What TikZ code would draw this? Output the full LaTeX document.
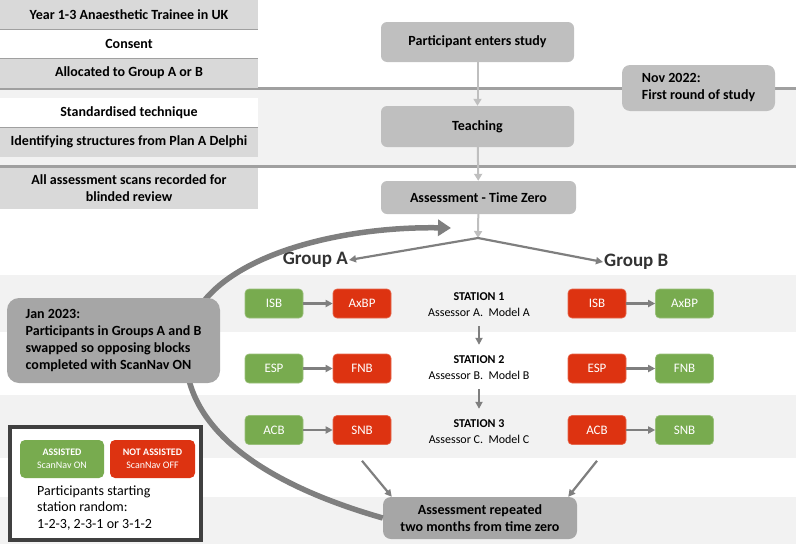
\documentclass[tikz,border=0pt]{standalone}
\usepackage{fontspec}
\setmainfont{Carlito}
\usetikzlibrary{arrows.meta}
\definecolor{bandgray}{HTML}{F2F2F2}
\definecolor{rowgray}{HTML}{D9D9D9}
\definecolor{flowgray}{HTML}{BFBFBF}
\definecolor{boxdark}{HTML}{A6A6A6}
\definecolor{linegray}{HTML}{A0A0A0}
\definecolor{arrgray}{HTML}{7F7F7F}
\definecolor{legborder}{HTML}{404040}
\definecolor{okgreen}{HTML}{78AB4F}
\definecolor{offred}{HTML}{DD3311}
\tikzset{
  lbl/.style={font=\fontsize{14}{17}\selectfont\bfseries},
  rowbox/.style={lbl, minimum width=258pt, minimum height=29pt, inner sep=0pt, align=center},
  flowbox/.style={lbl, fill=flowgray, rounded corners=6pt, minimum width=193pt, inner sep=0pt, align=center},
  notebox/.style={lbl, rounded corners=8pt, inner sep=0pt, align=left},
  smallbox/.style={rounded corners=4pt, minimum width=58pt, minimum height=29pt, inner sep=0pt,
    text=white, font=\fontsize{13}{15}\selectfont},
  greenbox/.style={smallbox, fill=okgreen, draw=okgreen!75!white, line width=0.6pt},
  redbox/.style={smallbox, fill=offred, draw=offred!75!white, line width=0.6pt},
  stlabel/.style={align=center, inner sep=0pt, font=\fontsize{12}{16}\selectfont},
  grouplbl/.style={inner sep=1pt, font=\fontsize{19}{22}\selectfont\bfseries, text=black!80},
  flowarr/.style={draw=flowgray, line width=2pt, -{Triangle[length=7pt,width=8pt]}},
  darr/.style={draw=arrgray, line width=2.2pt, -{Triangle[length=7pt,width=7pt]}},
  bigarc/.style={draw=arrgray, line width=5.5pt, -{Triangle[length=13pt,width=16pt]}},
  sepline/.style={draw=linegray, line width=1pt},
  thickline/.style={draw=linegray, line width=3pt}
}
\begin{document}
\begin{tikzpicture}[x=1pt,y=-1pt]
\useasboundingbox (0,0) rectangle (796,544);
% background bands
\fill[bandgray] (0,89) rectangle (796,166);
\fill[bandgray] (0,275) rectangle (796,332);
\fill[bandgray] (0,395) rectangle (796,458);
\fill[bandgray] (0,497) rectangle (796,544);
\draw[thickline] (0,88) -- (796,88);
\draw[thickline] (0,166) -- (796,166);
% left column
\node[rowbox, fill=rowgray] (r1) at (129,14.5) {Year 1-3 Anaesthetic Trainee in UK};
\node[rowbox, fill=white] (r2) at (129,44) {Consent};
\node[rowbox, fill=rowgray] (r3) at (129,73) {Allocated to Group A or B};
\node[rowbox, fill=white] (r4) at (129,112.5) {Standardised technique};
\node[rowbox, fill=rowgray] (r5) at (129,142) {Identifying structures from Plan A Delphi};
\node[rowbox, fill=rowgray, minimum height=41pt] (r6) at (129,188.5) {All assessment scans recorded for\\blinded review};
\draw[sepline] (r1.south west) -- (r1.south east);
\draw[sepline] (r2.south west) -- (r2.south east);
\draw[sepline] (r4.south west) -- (r4.south east);
% central flow
\node[flowbox, minimum height=40pt] (enter) at (477.5,42) {Participant enters study};
\node[flowbox, minimum height=41pt] (teach) at (477.5,126.5) {Teaching};
\node[flowbox, minimum height=33pt, minimum width=195pt] (tz) at (478.5,197.5) {Assessment - Time Zero};
\node[notebox, fill=flowgray, minimum width=153pt, minimum height=46pt] (nov) at (698.5,88) {Nov 2022:\\First round of study};
\coordinate (junc) at (478,238);
\draw[flowarr] (enter) -- (teach);
\draw[flowarr] (teach) -- (tz);
\draw[flowarr] (tz) -- (junc);
% groups
\node[grouplbl, anchor=east] (grpA) at (349,260) {Group A};
\node[grouplbl, anchor=west] (grpB) at (603,262) {Group B};
\draw[darr] (junc) -- (grpA.east);
\draw[darr] (junc) -- (grpB.west);
% repeat box and big arc
\node[lbl, fill=boxdark, rounded corners=8pt, minimum width=194pt, minimum height=42pt, inner sep=0pt, align=center] (rep) at (480,518) {Assessment repeated\\two months from time zero};
\coordinate (arcend) at (451,228);
\draw[bigarc] (rep.west) .. controls (250,480) and (180,420) .. (186,345) .. controls (192,262) and (330,226) .. (arcend);
\node[notebox, fill=boxdark, rounded corners=12pt, minimum width=213pt, minimum height=85pt] (jan) at (113.5,340.5) {Jan 2023:\\Participants in Groups A and B\\swapped so opposing blocks\\completed with ScanNav ON};
% stations
\node[stlabel] (st1) at (479,305) {\textbf{STATION 1}\\Assessor A.\ \ Model A};
\node[stlabel] (st2) at (479,368) {\textbf{STATION 2}\\Assessor B.\ \ Model B};
\node[stlabel] (st3) at (479,432) {\textbf{STATION 3}\\Assessor C.\ \ Model C};
\draw[darr, shorten <=9pt, shorten >=11pt] (st1.south) -- (st2.north);
\draw[darr, shorten <=9pt, shorten >=11pt] (st2.south) -- (st3.north);
% group A blocks
\node[greenbox] (isbA) at (274,303.5) {ISB};
\node[redbox] (axbpA) at (362,303.5) {AxBP};
\node[greenbox] (espA) at (274,368.5) {ESP};
\node[redbox] (fnbA) at (362,368.5) {FNB};
\node[greenbox] (acbA) at (274,430) {ACB};
\node[redbox] (snbA) at (362,430) {SNB};
\draw[darr] (isbA) -- (axbpA);
\draw[darr] (espA) -- (fnbA);
\draw[darr] (acbA) -- (snbA);
% group B blocks
\node[redbox] (isbB) at (597,303.5) {ISB};
\node[greenbox] (axbpB) at (684.5,303.5) {AxBP};
\node[redbox] (espB) at (597,368.5) {ESP};
\node[greenbox] (fnbB) at (684.5,368.5) {FNB};
\node[redbox] (acbB) at (597,430) {ACB};
\node[greenbox] (snbB) at (684.5,430) {SNB};
\draw[darr] (isbB) -- (axbpB);
\draw[darr] (espB) -- (fnbB);
\draw[darr] (acbB) -- (snbB);
% to repeat
\draw[darr] ([yshift=-16pt]snbA.south) -- ([xshift=9pt]rep.north west);
\draw[darr] ([yshift=-16pt]acbB.south) -- ([xshift=-9pt]rep.north east);
% legend
\node[draw=legborder, line width=4pt, fill=white, minimum width=191pt, minimum height=113pt, inner sep=0pt] (leg) at (105.5,483.5) {};
\node[smallbox, fill=okgreen, minimum width=84pt, minimum height=38pt, align=center, rounded corners=5pt, font=\fontsize{10}{13}\selectfont] (legon) at (62,459) {\textbf{ASSISTED}\\ScanNav ON};
\node[smallbox, fill=offred, minimum width=85pt, minimum height=38pt, align=center, rounded corners=5pt, font=\fontsize{10}{13}\selectfont] (legoff) at (152.5,459) {\textbf{NOT ASSISTED}\\ScanNav OFF};
\node[anchor=west, align=left, inner sep=0pt, font=\fontsize{14}{16.5}\selectfont] (legtxt) at (37,508) {Participants starting\\station random:\\1-2-3, 2-3-1 or 3-1-2};
\end{tikzpicture}
\end{document}
